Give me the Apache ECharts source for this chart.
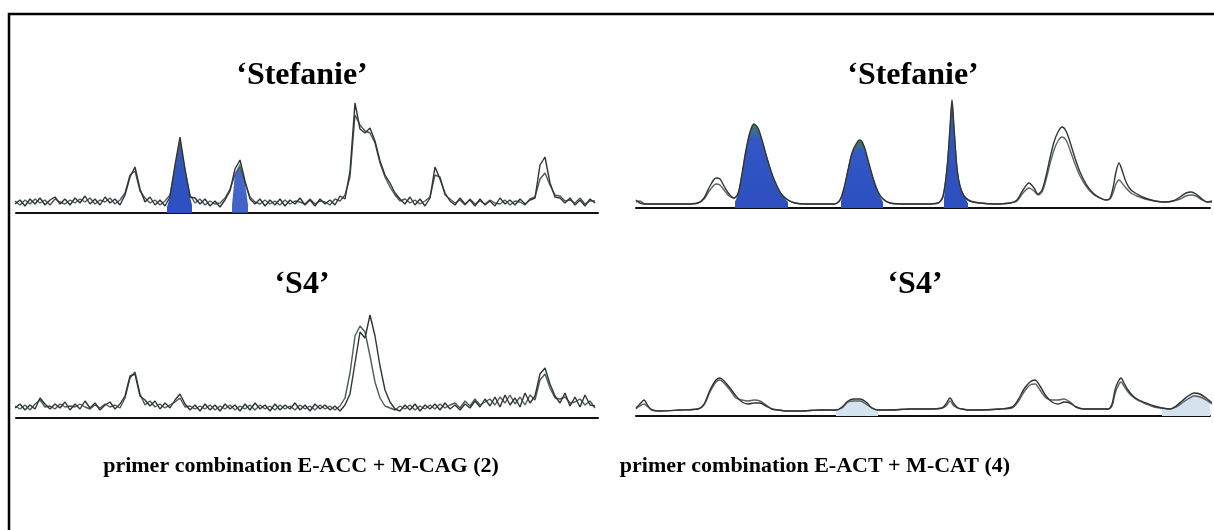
<!DOCTYPE html>
<html><head><meta charset="utf-8">
<script src="https://cdn.jsdelivr.net/npm/echarts@6/dist/echarts.min.js"></script>
<style>html,body{margin:0;padding:0;background:#fff}#c{width:1214px;height:530px}</style>
</head><body><div id="c"></div>
<script>
// ---------- labels ----------
const titlesTop = ["\u2018Stefanie\u2019", "\u2018Stefanie\u2019"];
const titlesBottom = ["\u2018S4\u2019", "\u2018S4\u2019"];
const captions = ["primer combination E-ACC + M-CAG (2)", "primer combination E-ACT + M-CAT (4)"];

// ---------- panel 1 (Stefanie, E-ACC + M-CAG): sampled every 5 units from 15 ----------
const p1Start = 15, p1Step = 5;
const p1a = [
  9,13,7,14,9,15,8,13,16,9,
  14,8,15,10,17,9,14,8,16,10,
  14,8,18,36,46,24,11,16,8,13,
  7,16,48,76,44,16,15,9,14,7,
  12,6,13,22,44,53,32,14,9,14,
  7,13,8,14,7,13,9,15,8,13,
  7,14,9,13,8,17,14,42,110,84,
  80,85,72,52,38,30,20,14,9,16,
  8,14,7,15,46,34,20,12,8,15,
  9,13,7,14,8,12,7,15,9,13,
  8,14,9,13,15,48,56,30,16,15,
  10,15,8,13,7,14,10];
const p1b = [
  12,8,13,9,14,10,13,8,14,11,
  9,13,10,14,11,15,9,13,11,15,
  9,13,20,38,42,22,15,10,13,8,
  12,18,45,70,42,18,10,14,8,12,
  9,10,15,24,38,46,30,16,11,9,
  13,9,12,8,13,9,12,11,9,14,
  9,12,11,8,14,12,18,36,98,88,
  82,80,70,50,36,26,18,12,14,10,
  13,9,12,16,38,36,18,14,10,13,
  8,14,9,12,9,13,10,9,13,8,
  12,11,8,14,16,34,40,28,18,17,
  12,13,10,15,9,12,12];
const p1FillX1 = [167,170,175,180,185,190,192];
const p1FillY1 = [6,16,48,76,44,16,8];
const p1FillX2 = [232,235,240,245,248];
const p1FillY2 = [8,40,50,30,8];

// ---------- panel 2 (Stefanie, E-ACT + M-CAT) ----------
const p2x = [636,640,645,655,670,685,698,
  704,710,716,720,724,729,734,738,742,746,
  750,754,758,762,767,772,777,782,788,795,
  805,820,834,840,844,848,852,856,860,864,
  868,873,878,883,890,905,925,938,943,947,
  950,952,954,957,960,964,970,980,995,1010,
  1017,1023,1029,1034,1038,1042,1046,1050,1054,1058,
  1062,1066,1070,1075,1080,1086,1093,1100,1106,1110,
  1113,1116,1119,1122,1126,1131,1137,1145,1155,1165,
  1173,1180,1186,1191,1196,1202,1207,1212];
const p2a = [8,5,4,4,4,4,5,
  10,22,30,29,22,14,10,14,34,58,
  76,84,80,68,50,34,22,13,8,5,
  4,4,4,8,20,38,55,64,68,62,
  48,30,16,9,5,4,4,5,12,40,
  80,108,80,40,22,12,7,5,4,5,
  8,18,25,20,14,18,32,50,66,76,
  81,77,66,50,36,24,15,10,8,10,
  20,36,45,38,26,18,14,10,7,6,
  7,11,15,16,14,9,6,7];
const p2b = [6,7,4,4,4,4,5,
  9,18,24,23,18,12,10,14,33,56,
  74,80,77,66,49,33,21,13,8,5,
  4,4,4,8,19,37,54,62,65,60,
  46,29,16,9,5,4,4,5,11,38,
  76,104,78,38,21,12,7,5,4,5,
  7,15,20,17,13,16,28,44,58,67,
  71,68,58,44,32,22,14,10,8,9,
  15,24,28,25,20,15,12,9,7,6,
  7,9,12,13,12,8,6,6];
const p2FillX1 = [735,738,742,746,750,754,758,762,767,772,777,782,788];
const p2FillY1 = [6,14,34,58,76,84,80,68,50,34,22,13,6];
const p2FillX2 = [841,844,848,852,856,860,864,868,873,878,883];
const p2FillY2 = [6,20,38,55,64,68,62,48,30,16,6];
const p2FillX3 = [944,947,950,952,954,957,960,964,968];
const p2FillY3 = [8,40,80,108,80,40,22,12,5];

// ---------- panel 3 (S4, E-ACC + M-CAG): sampled every 5 units from 15 ----------
const p3Start = 15, p3Step = 5;
const p3a = [
  10,14,8,13,9,20,14,9,14,10,
  16,8,14,9,17,10,15,8,13,16,
  9,14,22,42,44,22,18,12,17,9,
  15,10,18,24,14,8,13,7,14,8,
  13,7,14,9,13,7,14,8,15,9,
  13,7,14,8,13,9,15,8,13,7,
  14,9,13,8,12,7,13,24,55,86,
  80,103,82,52,28,16,9,7,13,8,
  14,7,13,9,14,8,15,9,13,8,
  14,10,17,11,19,12,21,11,23,13,
  20,11,25,15,22,44,50,34,22,15,
  25,12,21,11,23,13,12];
const p3b = [
  12,9,13,8,14,18,11,12,9,14,
  11,12,11,14,11,9,13,10,14,11,
  13,10,20,40,46,24,13,17,11,14,
  10,13,16,20,11,12,9,12,9,13,
  8,12,9,13,8,12,9,13,8,13,
  9,12,8,13,9,12,8,13,9,12,
  8,13,9,12,8,12,20,45,82,92,
  86,62,36,20,12,10,8,12,9,13,
  8,12,9,13,9,14,10,13,15,10,
  17,12,19,13,16,19,13,21,15,23,
  14,21,13,23,18,38,44,30,20,19,
  21,15,16,19,13,17,10];

// ---------- panel 4 (S4, E-ACT + M-CAT) ----------
const p4x = [636,640,644,648,652,660,680,698,704,710,
  716,720,724,730,736,742,748,754,760,766,
  772,778,786,800,820,836,842,848,854,860,
  866,872,878,890,910,930,942,946,950,954,
  958,962,968,980,1000,1012,1018,1024,1030,1035,
  1040,1046,1052,1058,1064,1070,1076,1084,1096,1108,
  1112,1115,1118,1121,1124,1128,1133,1139,1146,1154,
  1162,1170,1176,1182,1188,1194,1200,1206,1212];
const p4a = [8,12,16,10,6,5,6,7,12,26,
  36,38,35,28,20,14,12,13,13,10,
  7,6,5,5,6,6,9,15,17,17,
  14,8,6,6,7,7,8,12,18,12,
  8,7,6,6,7,9,16,27,34,36,
  30,20,14,12,14,13,9,7,7,7,
  12,26,34,38,33,26,20,16,13,10,
  8,7,10,15,20,23,22,18,13];
const p4b = [7,10,12,9,6,5,6,7,11,24,
  34,36,33,26,18,16,15,16,15,11,
  7,6,5,5,6,6,8,14,15,15,
  12,8,6,6,7,7,8,10,15,10,
  8,7,6,6,7,8,14,24,31,32,
  26,18,16,16,17,14,9,7,7,7,
  10,22,30,34,30,24,19,15,12,9,
  8,7,9,13,17,20,19,16,12];
const p4LightX1 = [836,842,848,854,860,866,872,878];
const p4LightY1 = [6,9,15,17,17,14,8,6];
const p4LightX2 = [1162,1170,1176,1182,1188,1194,1200,1206,1212];
const p4LightY2 = [8,7,10,15,20,23,22,18,13];

// ---------- build ----------
const zip = (xs, ys) => xs.map((x, i) => [x, ys[i]]);
const sampled = (start, step, ys) => ys.map((y, i) => [start + i * step, y]);

const grids = [
  {left: 16, top: 93, width: 582, height: 120},
  {left: 636, top: 88, width: 574, height: 120},
  {left: 16, top: 298, width: 582, height: 120},
  {left: 636, top: 296, width: 574, height: 120}
];
const xRanges = [[16, 598], [636, 1210], [16, 598], [636, 1210]];

const xAxes = grids.map((g, i) => ({
  type: 'value', gridIndex: i, min: xRanges[i][0], max: xRanges[i][1],
  axisLine: {show: true, onZero: false, lineStyle: {color: '#111', width: 2}},
  axisTick: {show: false}, axisLabel: {show: false}, splitLine: {show: false}
}));
const yAxes = grids.map((g, i) => ({
  type: 'value', gridIndex: i, min: 0, max: 120, show: false,
  axisLine: {show: false}, splitLine: {show: false}
}));

const blueFill = {
  type: 'linear', x: 0, y: 0, x2: 0, y2: 1,
  colorStops: [
    {offset: 0, color: '#2f8a6c'},
    {offset: 0.18, color: '#3257c6'},
    {offset: 1, color: '#2d4fbf'}
  ]
};

function trace(idx, data, color, smooth) {
  return {type: 'line', xAxisIndex: idx, yAxisIndex: idx, data: data, symbol: 'none',
    smooth: smooth, lineStyle: {color: color, width: 1.4}, z: 5, silent: true, clip: false};
}
function fill(idx, data, color, smooth, opacity) {
  return {type: 'line', xAxisIndex: idx, yAxisIndex: idx, data: data, symbol: 'none',
    smooth: smooth, lineStyle: {width: 0}, areaStyle: {color: color, opacity: opacity},
    z: 3, silent: true};
}

const series = [
  fill(0, zip(p1FillX1, p1FillY1), blueFill, false, 1),
  fill(0, zip(p1FillX2, p1FillY2), blueFill, false, 0.9),
  trace(0, sampled(p1Start, p1Step, p1b), '#4d5a5c', false),
  trace(0, sampled(p1Start, p1Step, p1a), '#2f3436', false),

  fill(1, zip(p2FillX1, p2FillY1), blueFill, 0.3, 1),
  fill(1, zip(p2FillX2, p2FillY2), blueFill, 0.3, 1),
  fill(1, zip(p2FillX3, p2FillY3), blueFill, 0.3, 1),
  trace(1, zip(p2x, p2b), '#5a6264', 0.3),
  trace(1, zip(p2x, p2a), '#2f3436', 0.3),

  trace(2, sampled(p3Start, p3Step, p3b), '#4d5a5c', false),
  trace(2, sampled(p3Start, p3Step, p3a), '#2f3436', false),

  fill(3, zip(p4LightX1, p4LightY1), '#d5e3ee', 0.3, 1),
  fill(3, zip(p4LightX2, p4LightY2), '#d5e3ee', 0.3, 1),
  trace(3, zip(p4x, p4b), '#5a6264', 0.3),
  trace(3, zip(p4x, p4a), '#2f3436', 0.3)
];

const serif = '"Liberation Serif", "DejaVu Serif", serif';
function label(text, x, y, size) {
  return {type: 'text', x: x, y: y, silent: true,
    style: {text: text, fill: '#000', font: 'bold ' + size + 'px ' + serif,
      textAlign: 'center', textVerticalAlign: 'middle'}};
}

const graphic = [
  {type: 'polyline', silent: true, shape: {points: [[9, 530], [9, 14], [1214, 14]]},
    style: {stroke: '#000', lineWidth: 2.5, fill: null}},
  label(titlesTop[0], 302, 76, 32),
  label(titlesTop[1], 913, 76, 32),
  label(titlesBottom[0], 302, 285, 32),
  label(titlesBottom[1], 915, 285, 32),
  label(captions[0], 301, 466, 22),
  label(captions[1], 815, 466, 22)
];

const chart = echarts.init(document.getElementById('c'), null, {renderer: 'canvas'});
chart.setOption({
  animation: false,
  backgroundColor: '#fff',
  grid: grids,
  xAxis: xAxes,
  yAxis: yAxes,
  series: series,
  graphic: graphic
});
</script></body></html>
